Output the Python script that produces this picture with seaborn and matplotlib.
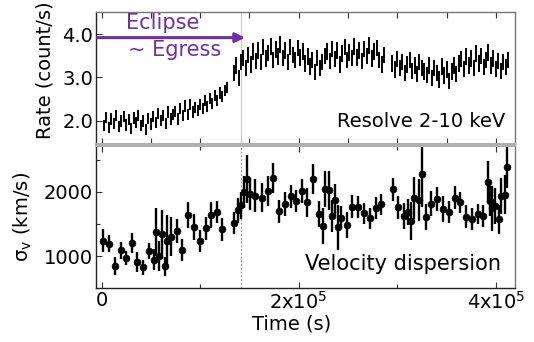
import numpy as np
import matplotlib
matplotlib.use("Agg")
import matplotlib.pyplot as plt
import seaborn as sns
from matplotlib.ticker import FixedLocator, FixedFormatter

# ---------------- data ----------------
# Resolve 2-10 keV light curve (time in ks, rate in count/s), three contiguous segments
rate_t1 = [2.5, 5, 7.5, 10, 12.5, 15, 17.5, 20, 22.5, 25, 27.5, 30, 32.5, 35, 37.5, 40, 42.5, 45, 47.5, 50,
           52.5, 55, 57.5, 60, 62.5, 65, 67.5, 70, 72.5, 75, 77.5, 80, 82.5, 85, 87.5, 90, 92.5, 95, 97.5,
           100, 102.5, 105, 107.5, 110, 112.5, 115, 117.5, 120, 122.5, 125, 127.5]
rate_v1 = [1.88, 2.08, 1.84, 2.04, 1.94, 2.12, 1.86, 1.99, 2.09, 1.90,
           2.02, 1.82, 2.06, 1.95, 2.12, 1.88, 1.99, 1.80, 2.05, 1.92,
           2.10, 1.96, 2.16, 2.00, 2.12, 1.94, 2.20, 2.04, 2.14,
           2.22, 2.04, 2.28, 2.12, 2.34, 2.14, 2.38, 2.20, 2.30, 2.24,
           2.38, 2.28, 2.46, 2.32, 2.52, 2.40, 2.58, 2.46, 2.64, 2.56, 2.70, 2.76]
rate_t2 = [134, 136.5, 139, 141.5, 144, 146.5, 149, 151.5, 154, 156.5,
           159, 161.5, 164, 166.5, 169, 171.5, 174, 176.5, 179, 181.5,
           184, 186.5, 189, 191.5, 194, 196.5, 199, 201.5, 204, 206.5,
           209, 211.5, 214, 216.5, 219, 221.5, 224, 226.5, 229, 231.5,
           234, 236.5, 239, 241.5, 244, 246.5, 249, 251.5, 254, 256.5,
           259, 261.5, 264, 266.5, 269, 271.5, 274, 276.5, 279, 281.5, 284, 286.5]
rate_v2 = [3.10, 3.28, 2.98, 3.35, 3.45, 3.22, 3.52, 3.30, 3.60, 3.38,
           3.62, 3.36, 3.70, 3.44, 3.56, 3.72, 3.40, 3.65, 3.48, 3.76,
           3.45, 3.62, 3.35, 3.70, 3.52, 3.40, 3.68, 3.46, 3.60, 3.32,
           3.48, 3.25, 3.40, 3.12, 3.45, 3.22, 3.36, 3.50, 3.60, 3.38,
           3.66, 3.42, 3.62, 3.30, 3.55, 3.70, 3.40, 3.58, 3.45, 3.72,
           3.46, 3.62, 3.38, 3.66, 3.50, 3.74, 3.44, 3.60, 3.68, 3.40, 3.30, 3.52]
rate_t3 = [295, 297.5, 300, 302.5, 305, 307.5, 310, 312.5, 315, 317.5,
           320, 322.5, 325, 327.5, 330, 332.5, 335, 337.5, 340, 342.5,
           345, 347.5, 350, 352.5, 355, 357.5, 360, 362.5, 365, 367.5,
           370, 372.5, 375, 377.5, 380, 382.5, 385, 387.5, 390, 392.5,
           395, 397.5, 400, 402.5, 405, 407.5, 410, 412.5]
rate_v3 = [3.32, 3.18, 3.42, 3.22, 3.35, 3.10, 3.30, 3.40, 3.15, 3.28,
           3.08, 3.36, 3.22, 3.14, 3.05, 3.28, 2.98, 3.22, 3.10, 2.95,
           3.25, 3.04, 3.18, 2.92, 3.14, 3.28, 3.08, 3.32, 3.42, 3.20,
           3.48, 3.28, 3.44, 3.22, 3.55, 3.32, 3.50, 3.24, 3.40, 3.58,
           3.28, 3.44, 3.20, 3.38, 3.15, 3.36, 3.24, 3.40]
rate_err = [0.13, 0.19, 0.19]  # per segment

# Velocity dispersion (time in ks, sigma_v in km/s, error in km/s)
vel_t = [1.8, 7.6, 13.7, 19.3, 25.0, 30.6, 36.3, 42.4, 47.9, 52.9,
         55.1, 58.5, 61.1, 64.1, 66.4, 70.2, 76.1, 81.6, 87.5, 93.6,
         99.4, 105.6, 111.3, 117.2, 122.7, 134.0, 138.7, 141.5, 144.3, 147.4,
         150.2, 156.0, 162.5, 168.4, 174.2, 180.2, 185.9, 191.9, 197.5, 203.0,
         208.9, 214.8, 220.6, 225.0, 227.0, 230.7, 233.8, 236.8, 239.6, 242.6,
         248.7, 254.4, 260.4, 266.2, 272.3, 278.1, 283.8, 295.3, 301.0, 306.8,
         311.2, 313.6, 316.9, 322.3, 325.0, 328.8, 334.5, 340.6, 346.7, 352.4,
         358.5, 363.9, 369.7, 375.8, 381.5, 387.2, 392.0, 394.0, 396.3, 399.4,
         402.8, 405.5, 409.2, 411.6]
vel_v = [1246, 1200, 852, 1095, 975, 1208, 914, 831, 1077, 950,
         1382, 1008, 1345, 847, 1236, 1308, 1395, 1103, 1636, 1462,
         1243, 1436, 1641, 1692, 1420, 1513, 1713, 1795, 2000, 2205,
         1962, 1944, 1913, 2010, 2215, 1698, 1812, 1933, 1856, 2012,
         1838, 2205, 1656, 1477, 2041, 2026, 1626, 1872, 1451, 1600,
         1487, 1769, 1769, 1667, 1590, 1754, 1805, 2041, 1759, 1626,
         1692, 1549, 1908, 1872, 2272, 1615, 1820, 1887, 1733, 1682,
         1908, 1836, 1615, 1579, 1656, 1626, 2154, 1856, 1744, 1785,
         1574, 1938, 1959, 2385]
vel_e = [185, 125, 135, 130, 115, 150, 150, 115, 125, 160,
         370, 230, 380, 150, 400, 300, 190, 170, 200, 200,
         170, 180, 200, 170, 180, 170, 200, 210, 250, 370,
         250, 250, 230, 230, 230, 180, 180, 180, 170, 190,
         220, 230, 200, 280, 280, 300, 250, 250, 350, 180,
         200, 180, 170, 160, 160, 170, 170, 180, 180, 200,
         200, 300, 330, 330, 500, 200, 200, 190, 200, 170,
         180, 170, 180, 170, 160, 170, 320, 230, 350, 280,
         230, 280, 300, 330]

egress_t = 141.2  # ks
xticks = [0, 200000, 400000]
xtick_labels = ["0", "2x10$^5$", "4x10$^5$"]

# ---------------- figure ----------------
sns.set_theme(style="ticks")
plt.rcParams["font.family"] = ["DejaVu Sans"]
plt.rcParams.update({"text.color": "black", "axes.labelcolor": "black",
                     "xtick.color": "black", "ytick.color": "black"})

fig = plt.figure(figsize=(5.34, 3.42), dpi=100)
fig.patch.set_facecolor("white")
ax1 = fig.add_axes([96 / 534, 1 - 144 / 342, 419.3 / 534, 132.3 / 342])
ax2 = fig.add_axes([96 / 534, 1 - 288 / 342, 419.3 / 534, 142.5 / 342])

XMIN, XMAX = -5580, 419700

# Light curve
for tt, vv, ee in zip([rate_t1, rate_t2, rate_t3], [rate_v1, rate_v2, rate_v3], rate_err):
    t = np.asarray(tt) * 1e3
    v = np.asarray(vv)
    ax1.vlines(t, v - ee, v + ee, color="black", lw=1.4)
ax1.axvline(egress_t * 1e3, color="#c8c8c8", lw=0.8, zorder=0)
ax1.set_xlim(XMIN, XMAX)
ax1.set_ylim(1.46, 4.52)
ax1.yaxis.set_major_locator(FixedLocator([2.0, 3.0, 4.0]))
ax1.yaxis.set_major_formatter(FixedFormatter(["2.0", "3.0", "4.0"]))
ax1.xaxis.set_major_locator(FixedLocator([0, 50000, 100000, 150000, 200000, 250000, 300000, 350000, 400000]))
ax1.tick_params(axis="x", labelbottom=False)
ax1.set_ylabel("Rate (count/s)", fontsize=14)
ax1.yaxis.set_label_coords(-0.100, 0.56)
ax1.text(0.975, 0.10, "Resolve 2-10 keV", transform=ax1.transAxes, ha="right", va="bottom", fontsize=14)

# Eclipse arrow
ax1.annotate("", xy=(145500, 3.92), xytext=(XMIN + 1500, 3.92),
             arrowprops=dict(arrowstyle="-|>", color="#7030A0", lw=2.2, mutation_scale=14,
                             shrinkA=0, shrinkB=0))
ax1.text(62400, 4.27, "Eclipse", color="#7030A0", fontsize=15, ha="center", va="center")
ax1.text(74500, 3.64, "~ Egress", color="#7030A0", fontsize=15, ha="center", va="center")

# Velocity dispersion
vt = np.asarray(vel_t) * 1e3
ax2.errorbar(vt, vel_v, yerr=vel_e, fmt="none", ecolor="black", elinewidth=1.7, capsize=0, zorder=2)
sns.scatterplot(x=vt, y=vel_v, ax=ax2, color="black", s=24, edgecolor="black", linewidth=0.5, zorder=3)
ax2.axvline(egress_t * 1e3, color="#9a9a9a", lw=0.9, ls=(0, (1.5, 1.5)), zorder=0)
ax2.set_xlim(XMIN, XMAX)
ax2.set_ylim(510, 2720)
ax2.yaxis.set_major_locator(FixedLocator([1000, 2000]))
ax2.yaxis.set_major_formatter(FixedFormatter(["1000", "2000"]))
ax2.yaxis.set_minor_locator(FixedLocator([1500, 2500]))
ax2.xaxis.set_major_locator(FixedLocator(xticks))
ax2.xaxis.set_major_formatter(FixedFormatter(xtick_labels))
ax2.xaxis.set_minor_locator(FixedLocator([100000, 300000]))
ax2.set_ylabel("σ$_\\mathrm{v}$ (km/s)", fontsize=14)
ax2.yaxis.set_label_coords(-0.148, 0.5)
ax2.set_xlabel("Time (s)", fontsize=14)
ax2.xaxis.set_label_coords(0.467, -0.185)
ax2.text(0.965, 0.10, "Velocity dispersion", transform=ax2.transAxes, ha="right", va="bottom", fontsize=15)

for ax in (ax1, ax2):
    ax.set_facecolor("white")
    ax.tick_params(which="both", direction="in", top=True, labelsize=14, pad=2, color="#333333",
                   labelcolor="black")
    ax.tick_params(which="major", length=4, width=0.8)
    ax.tick_params(which="minor", length=3, width=0.8)
    for s in ax.spines.values():
        s.set_color("#222222")
        s.set_linewidth(1.0)
ax1.spines["bottom"].set_color("#b0b0b0")
ax1.spines["bottom"].set_linewidth(1.5)
ax2.spines["top"].set_color("#b0b0b0")
ax2.spines["top"].set_linewidth(1.5)
ax1.spines["top"].set_color("#777777")
ax1.spines["right"].set_color("#777777")
ax2.spines["right"].set_color("#777777")

fig.savefig("out.png", dpi=100, facecolor="white")
